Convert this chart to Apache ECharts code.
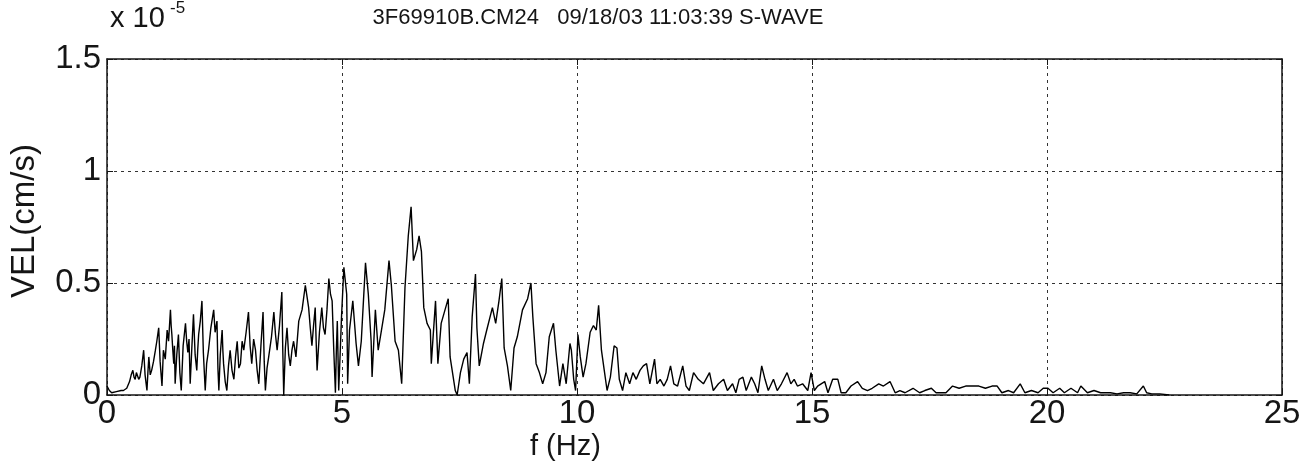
<!DOCTYPE html>
<html>
<head>
<meta charset="utf-8">
<script src="https://cdn.jsdelivr.net/npm/echarts@6/dist/echarts.min.js"></script>
<style>
html,body{margin:0;padding:0;background:#fff;}
#chart{width:1314px;height:475px;}
</style>
</head>
<body>
<div id="chart"></div>
<script>
// Frequency (Hz)
const freq = [
0,0.05,0.1,0.2,0.3,0.35,0.42,0.48,0.515,0.55,
0.575,0.6,0.625,0.65,0.675,0.7,0.74,0.78,0.81,0.85,
0.87,0.89,0.92,0.95,0.99,1.03,1.06,1.1,1.13,1.17,
1.185,1.2,1.24,1.28,1.31,1.35,1.365,1.38,1.4,1.42,
1.435,1.45,1.485,1.52,1.55,1.58,1.62,1.67,1.695,1.72,
1.745,1.77,1.805,1.84,1.875,1.91,1.93,1.95,1.985,2.02,
2.05,2.09,2.12,2.16,2.21,2.27,2.3,2.34,2.36,2.38,
2.41,2.45,2.465,2.48,2.515,2.55,2.585,2.62,2.66,2.7,
2.735,2.77,2.805,2.84,2.875,2.91,2.96,3.01,3.045,3.08,
3.12,3.16,3.195,3.23,3.275,3.32,3.345,3.37,3.405,3.44,
3.5,3.55,3.585,3.62,3.67,3.72,3.74,3.76,3.795,3.83,
3.865,3.9,3.935,3.97,4.02,4.08,4.15,4.22,4.255,4.29,
4.325,4.36,4.395,4.43,4.45,4.47,4.52,4.57,4.605,4.64,
4.68,4.72,4.755,4.79,4.825,4.86,4.88,4.9,4.93,4.96,
4.99,5.04,5.1,5.12,5.16,5.23,5.3,5.35,5.41,5.5,
5.56,5.62,5.64,5.71,5.77,5.84,5.91,6.0,6.05,6.13,
6.2,6.27,6.34,6.41,6.47,6.52,6.59,6.64,6.69,6.74,
6.81,6.88,6.9,6.99,7.04,7.11,7.26,7.3,7.41,7.45,
7.52,7.59,7.66,7.71,7.77,7.84,7.87,7.92,8.01,8.08,
8.2,8.27,8.34,8.4,8.45,8.52,8.59,8.66,8.73,8.84,
8.95,9.02,9.06,9.13,9.2,9.27,9.34,9.41,9.5,9.55,
9.63,9.7,9.77,9.85,9.88,9.93,9.97,10.02,10.07,10.13,
10.19,10.28,10.35,10.41,10.46,10.52,10.58,10.64,10.71,10.79,
10.85,10.9,10.97,11.04,11.12,11.19,11.26,11.34,11.41,11.48,
11.55,11.65,11.7,11.77,11.85,11.92,11.99,12.06,12.14,12.25,
12.32,12.39,12.48,12.58,12.69,12.82,12.9,13.01,13.12,13.2,
13.31,13.38,13.45,13.53,13.6,13.71,13.78,13.85,13.93,14.0,
14.07,14.18,14.26,14.35,14.47,14.55,14.62,14.69,14.8,14.91,
14.98,15.05,15.12,15.27,15.34,15.44,15.55,15.62,15.72,15.83,
15.97,16.07,16.18,16.28,16.42,16.52,16.66,16.77,16.87,16.98,
17.15,17.29,17.4,17.54,17.64,17.75,17.85,17.99,18.13,18.27,
18.41,18.55,18.69,18.83,18.94,19.04,19.18,19.29,19.43,19.53,
19.67,19.81,19.92,20.02,20.13,20.27,20.37,20.51,20.65,20.72,
20.86,21.0,21.14,21.25,21.35,21.49,21.63,21.77,21.91,22.05,
22.12,22.23,22.4,22.6
];
// Velocity spectrum amplitude (units of 1e-5 cm/s)
const vel = [
0.04,0.02,0.01,0.015,0.02,0.02,0.03,0.06,0.09,0.11,
0.08,0.07,0.1,0.1,0.07,0.08,0.13,0.2,0.09,0.02,
0.1,0.17,0.09,0.11,0.15,0.2,0.24,0.3,0.15,0.04,
0.12,0.2,0.16,0.29,0.24,0.38,0.31,0.27,0.2,0.14,
0.22,0.05,0.18,0.27,0.1,0.02,0.22,0.32,0.24,0.19,
0.25,0.05,0.21,0.36,0.18,0.11,0.2,0.27,0.33,0.42,
0.19,0.02,0.14,0.2,0.3,0.38,0.28,0.33,0.12,0.02,
0.18,0.29,0.2,0.14,0.06,0.02,0.13,0.2,0.11,0.07,
0.17,0.24,0.12,0.14,0.24,0.2,0.28,0.37,0.22,0.14,
0.25,0.2,0.11,0.05,0.22,0.37,0.15,0.02,0.12,0.17,
0.26,0.37,0.27,0.2,0.31,0.46,0.2,0.0,0.21,0.3,
0.18,0.13,0.2,0.24,0.17,0.33,0.38,0.49,0.44,0.39,
0.3,0.22,0.31,0.39,0.24,0.11,0.28,0.39,0.3,0.27,
0.38,0.52,0.45,0.42,0.2,0.01,0.2,0.33,0.02,0.18,
0.35,0.57,0.45,0.05,0.29,0.42,0.23,0.13,0.24,0.59,
0.45,0.24,0.08,0.38,0.2,0.29,0.38,0.6,0.49,0.24,
0.2,0.05,0.48,0.71,0.84,0.6,0.65,0.71,0.64,0.39,
0.32,0.29,0.14,0.42,0.14,0.32,0.43,0.17,0.02,0.0,
0.1,0.16,0.19,0.05,0.35,0.54,0.3,0.13,0.23,0.29,
0.39,0.32,0.42,0.52,0.21,0.13,0.02,0.21,0.26,0.38,
0.43,0.5,0.35,0.14,0.1,0.05,0.1,0.26,0.32,0.2,
0.04,0.14,0.05,0.23,0.2,0.07,0.02,0.27,0.17,0.08,
0.14,0.28,0.31,0.29,0.4,0.2,0.11,0.02,0.08,0.22,
0.21,0.07,0.02,0.1,0.05,0.1,0.07,0.11,0.13,0.14,
0.05,0.16,0.05,0.07,0.04,0.07,0.13,0.05,0.04,0.13,
0.04,0.02,0.1,0.07,0.05,0.1,0.02,0.05,0.07,0.02,
0.05,0.01,0.07,0.08,0.02,0.08,0.05,0.01,0.13,0.07,
0.02,0.07,0.02,0.05,0.1,0.05,0.07,0.04,0.05,0.02,
0.1,0.02,0.04,0.06,0.01,0.07,0.07,0.01,0.01,0.04,
0.06,0.03,0.02,0.03,0.05,0.04,0.06,0.01,0.02,0.01,
0.03,0.01,0.02,0.03,0.01,0.01,0.01,0.04,0.03,0.04,
0.04,0.04,0.03,0.04,0.04,0.01,0.02,0.01,0.05,0.01,
0.02,0.01,0.03,0.03,0.01,0.03,0.01,0.03,0.01,0.04,
0.01,0.02,0.01,0.01,0.01,0.005,0.01,0.01,0.005,0.04,
0.01,0.005,0.005,0.0
];
const xTicks = [0, 5, 10, 15, 20, 25];
const yTicks = [0, 0.5, 1, 1.5];
const titleText = '3F69910B.CM24   09/18/03 11:03:39 S-WAVE';
const yName = 'VEL(cm/s)';
const xName = 'f (Hz)';

const chart = echarts.init(document.getElementById('chart'), null, {renderer: 'canvas'});
const FONT = 'Liberation Sans, Arial, sans-serif';
const INK = '#151515';
const gridStyle = {show: true, lineStyle: {color: '#333', type: [3, 4], width: 1}};
const seriesData = freq.map((f, i) => [f, vel[i]]);

const option = {
  backgroundColor: '#fff',
  animation: false,
  grid: {left: 107, right: 32, top: 59, bottom: 80},
  title: {
    text: titleText, left: 593, top: 2, textAlign: 'center',
    textStyle: {fontFamily: FONT, fontSize: 22, fontWeight: 'normal', color: INK}
  },
  graphic: [
    {type: 'text', left: 110, top: 4, style: {text: 'x 10', font: '29px ' + FONT, fill: INK}},
    {type: 'text', left: 170, top: 0, style: {text: '-5', font: '17px ' + FONT, fill: INK}},
    {type: 'text', left: 530, top: 432, style: {text: xName, font: '29px ' + FONT, fill: INK}},
    {type: 'text', left: 8, top: 144, rotation: Math.PI / 2,
      style: {text: yName, font: '33px ' + FONT, fill: INK}}
  ],
  xAxis: [
    {type: 'value', min: 0, max: 25, interval: 5, position: 'bottom',
      axisLine: {show: true, onZero: false, lineStyle: {color: INK, width: 1.5}},
      axisTick: {show: true, inside: true, length: 6, lineStyle: {color: INK}},
      axisLabel: {color: INK, fontFamily: FONT, fontSize: 33, margin: 2,
        formatter: v => xTicks.includes(v) ? String(v) : ''},
      splitLine: gridStyle},
    {type: 'value', min: 0, max: 25, interval: 5, position: 'top',
      axisLine: {show: true, onZero: false, lineStyle: {color: INK, width: 1.5}},
      axisTick: {show: true, inside: true, length: 6, lineStyle: {color: INK}},
      axisLabel: {show: false}, splitLine: {show: false}}
  ],
  yAxis: [
    {type: 'value', min: 0, max: 1.5, interval: 0.5, position: 'left',
      axisLine: {show: true, onZero: false, lineStyle: {color: INK, width: 1.5}},
      axisTick: {show: true, inside: true, length: 6, lineStyle: {color: INK}},
      axisLabel: {color: INK, fontFamily: FONT, fontSize: 33, margin: 6,
        formatter: v => yTicks.includes(v) ? String(v) : ''},
      splitLine: gridStyle},
    {type: 'value', min: 0, max: 1.5, interval: 0.5, position: 'right',
      axisLine: {show: true, onZero: false, lineStyle: {color: INK, width: 1.5}},
      axisTick: {show: true, inside: true, length: 6, lineStyle: {color: INK}},
      axisLabel: {show: false}, splitLine: {show: false}}
  ],
  series: [{
    type: 'line', data: seriesData, xAxisIndex: 0, yAxisIndex: 0,
    showSymbol: false, symbol: 'none',
    lineStyle: {color: '#000', width: 1.4}, z: 5
  }]
};
chart.setOption(option);
</script>
</body>
</html>
